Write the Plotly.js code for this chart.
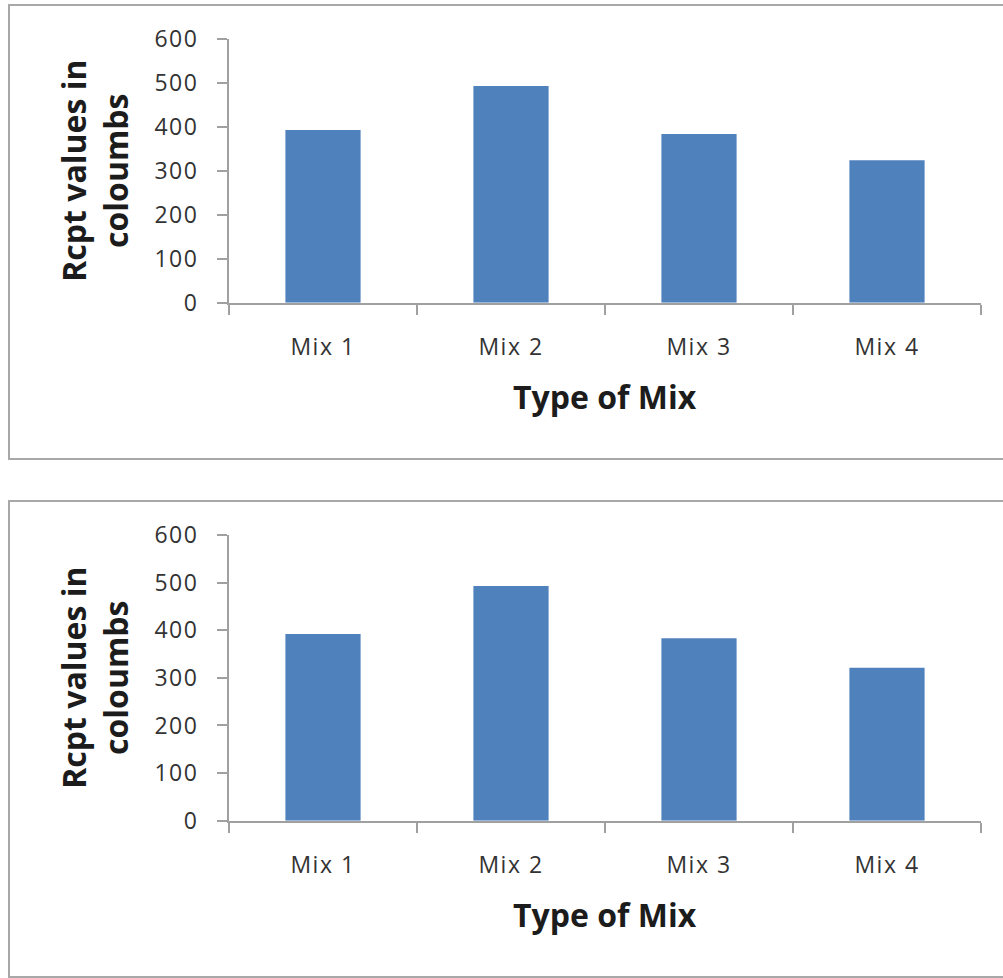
<!DOCTYPE html>
<html>
<head>
<meta charset="utf-8">
<script src="https://cdn.plot.ly/plotly-3.0.1.min.js"></script>
<style>
  html, body { margin: 0; padding: 0; background: #ffffff; }
  #chart { width: 1003px; height: 978px; }
  /* slightly wider spacing for the category and value labels */
  .xtick text, .x2tick text, .ytick text, .y2tick text { letter-spacing: 1.5px; }
</style>
</head>
<body>
<div id="chart"></div>
<script>
// Category names along the x axis
const mixLabels = ['Mix 1', 'Mix 2', 'Mix 3', 'Mix 4'];
// Rcpt values (coulombs) for the upper chart
const rcptUpper = [393, 493, 384, 324];
// Rcpt values (coulombs) for the lower chart
const rcptLower = [392, 493, 383, 321];
// Value axis ticks
const yTickValues = [0, 100, 200, 300, 400, 500, 600];

const W = 1003, H = 978;
const fx = (x) => x / W;          // pixel column -> paper x
const fy = (y) => 1 - y / H;      // pixel row -> paper y

const barColor = '#4f81bd';
const axisColor = '#a0a0a0';
const tickFont = { family: 'Open Sans, sans-serif', size: 23, color: '#333333' };
const titleFont = { family: 'Open Sans, sans-serif', size: 32, color: '#1c1c1c', weight: 'bold' };

function catAxis(anchor, domain) {
  return {
    domain: domain, anchor: anchor, type: 'category',
    range: [-0.5, 3.5], tickson: 'boundaries',
    ticks: 'outside', ticklen: 10, tickwidth: 2, tickcolor: axisColor,
    showline: true, linecolor: axisColor, linewidth: 2,
    showgrid: false, zeroline: false,
    tickfont: tickFont, ticklabelstandoff: 23, fixedrange: true
  };
}
function valAxis(anchor, domain) {
  return {
    domain: domain, anchor: anchor,
    range: [0, 600], tickvals: yTickValues,
    ticks: 'outside', ticklen: 10, tickwidth: 2, tickcolor: axisColor,
    showline: true, linecolor: axisColor, linewidth: 2,
    showgrid: false, zeroline: false,
    tickfont: tickFont, ticklabelstandoff: 14, fixedrange: true
  };
}

const plotLeft = 229, plotRight = 981;
const upperTop = 39, upperBottom = 302.7;
const lowerTop = 535, lowerBottom = 820.7;

const traces = [
  { type: 'bar', x: mixLabels, y: rcptUpper, xaxis: 'x', yaxis: 'y',
    width: 0.4, marker: { color: barColor }, hoverinfo: 'x+y' },
  { type: 'bar', x: mixLabels, y: rcptLower, xaxis: 'x2', yaxis: 'y2',
    width: 0.4, marker: { color: barColor }, hoverinfo: 'x+y' }
];

function titles(top, bottom) {
  const midY = (top + bottom) / 2;
  return [
    { text: 'Rcpt values in<br>coloumbs', xref: 'paper', yref: 'paper',
      x: fx(95), y: fy(midY), xanchor: 'center', yanchor: 'middle',
      textangle: -90, showarrow: false, font: titleFont, align: 'center' },
    { text: 'Type of Mix', xref: 'paper', yref: 'paper',
      x: fx((plotLeft + plotRight) / 2), y: fy(bottom + 94),
      xanchor: 'center', yanchor: 'middle', showarrow: false, font: titleFont }
  ];
}

const frame = (y0, y1) => ({
  type: 'rect', xref: 'paper', yref: 'paper', layer: 'below',
  x0: fx(9), x1: fx(1012), y0: fy(y1), y1: fy(y0),
  line: { color: '#a8a8a8', width: 2 }, fillcolor: 'rgba(0,0,0,0)'
});

const layout = {
  width: W, height: H,
  margin: { l: 0, r: 0, t: 0, b: 0, pad: 0 },
  paper_bgcolor: '#ffffff', plot_bgcolor: '#ffffff',
  showlegend: false,
  xaxis: catAxis('y', [fx(plotLeft), fx(plotRight)]),
  yaxis: valAxis('x', [fy(upperBottom), fy(upperTop)]),
  xaxis2: catAxis('y2', [fx(plotLeft), fx(plotRight)]),
  yaxis2: valAxis('x2', [fy(lowerBottom), fy(lowerTop)]),
  annotations: titles(upperTop, upperBottom).concat(titles(lowerTop, lowerBottom)),
  shapes: [frame(5, 459), frame(501, 977)]
};

Plotly.newPlot('chart', traces, layout, { displayModeBar: false, staticPlot: true });
</script>
</body>
</html>
